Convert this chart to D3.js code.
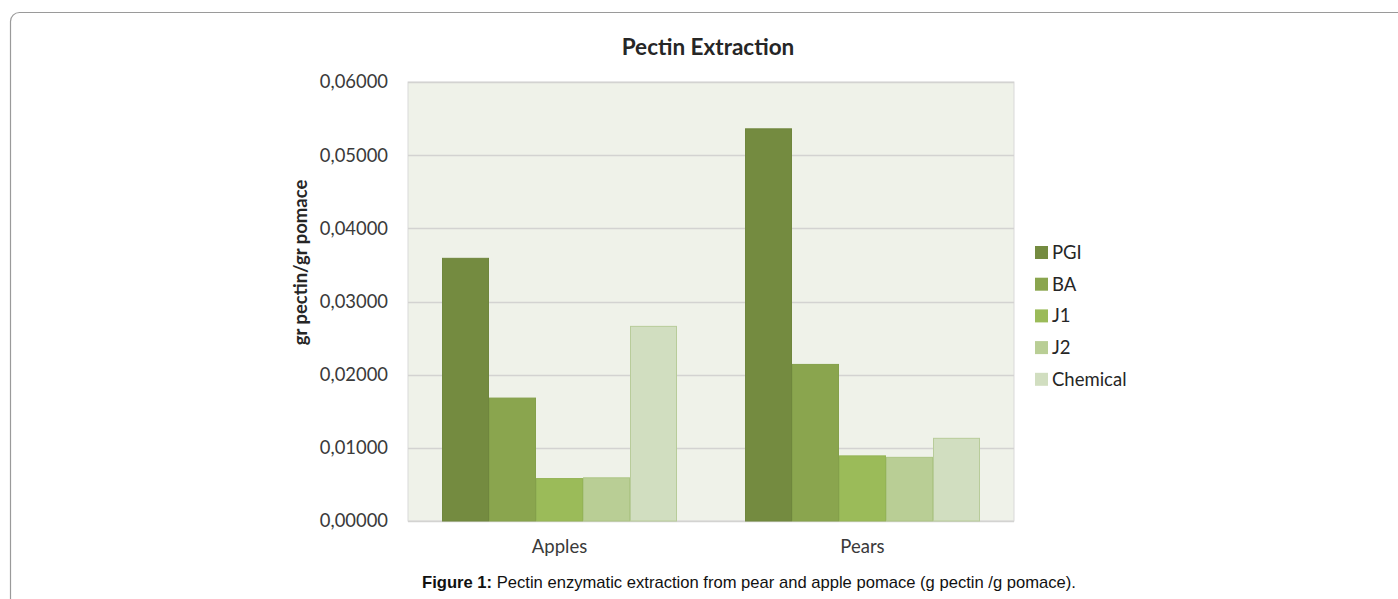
<!DOCTYPE html>
<html>
<head>
<meta charset="utf-8">
<script src="https://d3js.org/d3.v7.min.js"></script>
<style>
  body { margin: 0; background: #fff; }
  svg { display: block; }
</style>
</head>
<body>
<div id="chart"></div>
<script>
var categories = ["Apples", "Pears"]
var seriesNames = ["PGI", "BA", "J1", "J2", "Chemical"]
var values = {
  PGI:      [0.0359, 0.0536],
  BA:       [0.0168, 0.0214],
  J1:       [0.0058, 0.0089],
  J2:       [0.0059, 0.0087],
  Chemical: [0.0266, 0.0113]
}
var yTicks = [0, 0.01, 0.02, 0.03, 0.04, 0.05, 0.06]

var colors = {PGI: "#748b40", BA: "#8aa54e", J1: "#9bbb59", J2: "#b9ce95", Chemical: "#d1dec0"}
var strokes = {PGI: "#6f863d", BA: "#84a04a", J1: "#94b456", J2: "#adc585", Chemical: "#b8cc9a"}

var W = 1398, H = 599
var margin = {top: 82, left: 408, right: 384, bottom: 78}
var width = W - margin.left - margin.right,
    height = H - margin.top - margin.bottom
var font = "Lato, 'Open Sans', sans-serif"

var svg = d3.select("#chart").append("svg")
    .attr("width", W)
    .attr("height", H)

// page frame
svg.append("rect")
    .attr("x", 10.5).attr("y", 12.5)
    .attr("width", 1500).attr("height", 800)
    .attr("rx", 9)
    .attr("fill", "none")
    .attr("stroke", "#9a9a9a")
    .attr("stroke-width", 1.2)

var g = svg.append("g")
    .attr("transform", "translate(" + margin.left + "," + margin.top + ")")

var x0 = d3.scaleBand().domain(categories).range([0, width]).paddingInner(0).paddingOuter(0)
var x1 = d3.scaleBand().domain(seriesNames).range([34, x0.bandwidth() - 34])
var y = d3.scaleLinear().domain([0, 0.06]).range([height, 0])

g.append("rect")
    .attr("width", width).attr("height", height)
    .attr("fill", "#eff2e9")
    .attr("stroke", "#d9d9d9")

g.append("g").selectAll("line")
  .data(yTicks)
  .join("line")
    .attr("x1", 0).attr("x2", width)
    .attr("y1", function(d) { return Math.round(y(d)) + 0.5 })
    .attr("y2", function(d) { return Math.round(y(d)) + 0.5 })
    .attr("stroke", "#d3d3d1")
    .attr("stroke-width", 1.3)

var fmt = function(d) { return d3.format(".5f")(d).replace(".", ",") }

var yAxis = d3.axisLeft(y).tickValues(yTicks).tickFormat(fmt).tickSize(0).tickPadding(20)
g.append("g")
    .call(yAxis)
    .call(function(a) { a.select(".domain").remove() })
    .selectAll("text")
    .attr("font-family", font)
    .attr("font-size", 18.4)
    .attr("fill", "#3a3a3a")

var xAxis = d3.axisBottom(x0).tickSize(0).tickPadding(19)
g.append("g")
    .attr("transform", "translate(0," + height + ")")
    .call(xAxis)
    .call(function(a) { a.select(".domain").remove() })
    .selectAll("text")
    .attr("font-family", font)
    .attr("font-size", 18.5)
    .attr("fill", "#3a3a3a")

var groups = g.append("g").selectAll("g")
  .data(categories)
  .join("g")
    .attr("transform", function(d) { return "translate(" + x0(d) + ",0)" })

groups.selectAll("rect")
  .data(function(c, i) { return seriesNames.map(function(s) { return {s: s, v: values[s][i]} }) })
  .join("rect")
    .attr("x", function(d) { return x1(d.s) + 0.5 })
    .attr("y", function(d) { return y(d.v) })
    .attr("width", x1.bandwidth() - 1)
    .attr("height", function(d) { return height - y(d.v) })
    .attr("fill", function(d) { return colors[d.s] })
    .attr("stroke", function(d) { return strokes[d.s] })
    .attr("stroke-width", 1)

// title
svg.append("text")
    .attr("x", 708).attr("y", 55)
    .attr("text-anchor", "middle")
    .attr("font-family", font)
    .attr("font-weight", "bold")
    .attr("font-size", 22.5)
    .attr("fill", "#262626")
    .text("Pectin Extraction")

// y title
svg.append("text")
    .attr("transform", "translate(307," + (margin.top + height / 2 - 39) + ") rotate(-90)")
    .attr("text-anchor", "middle")
    .attr("font-family", font)
    .attr("font-weight", "bold")
    .attr("font-size", 18.5)
    .attr("fill", "#262626")
    .text("gr pectin/gr pomace")

// legend
var legend = svg.append("g").attr("transform", "translate(1035,246)")
var li = legend.selectAll("g")
  .data(seriesNames)
  .join("g")
    .attr("transform", function(d, i) { return "translate(0," + (i * 31.7) + ")" })
li.append("rect")
    .attr("width", 13).attr("height", 13)
    .attr("fill", function(d) { return colors[d] })
li.append("text")
    .attr("x", 17).attr("y", 13)
    .attr("font-family", font)
    .attr("font-size", 18.5)
    .attr("fill", "#262626")
    .text(function(d) { return d })

// caption
var cap = svg.append("text")
    .attr("x", 749).attr("y", 588)
    .attr("text-anchor", "middle")
    .attr("font-family", "'Liberation Sans', Arial, sans-serif")
    .attr("font-size", 16.6)
    .attr("fill", "#111")
cap.append("tspan").attr("font-weight", "bold").text("Figure 1:")
cap.append("tspan").text(" Pectin enzymatic extraction from pear and apple pomace (g pectin /g pomace).")
</script>
</body>
</html>
